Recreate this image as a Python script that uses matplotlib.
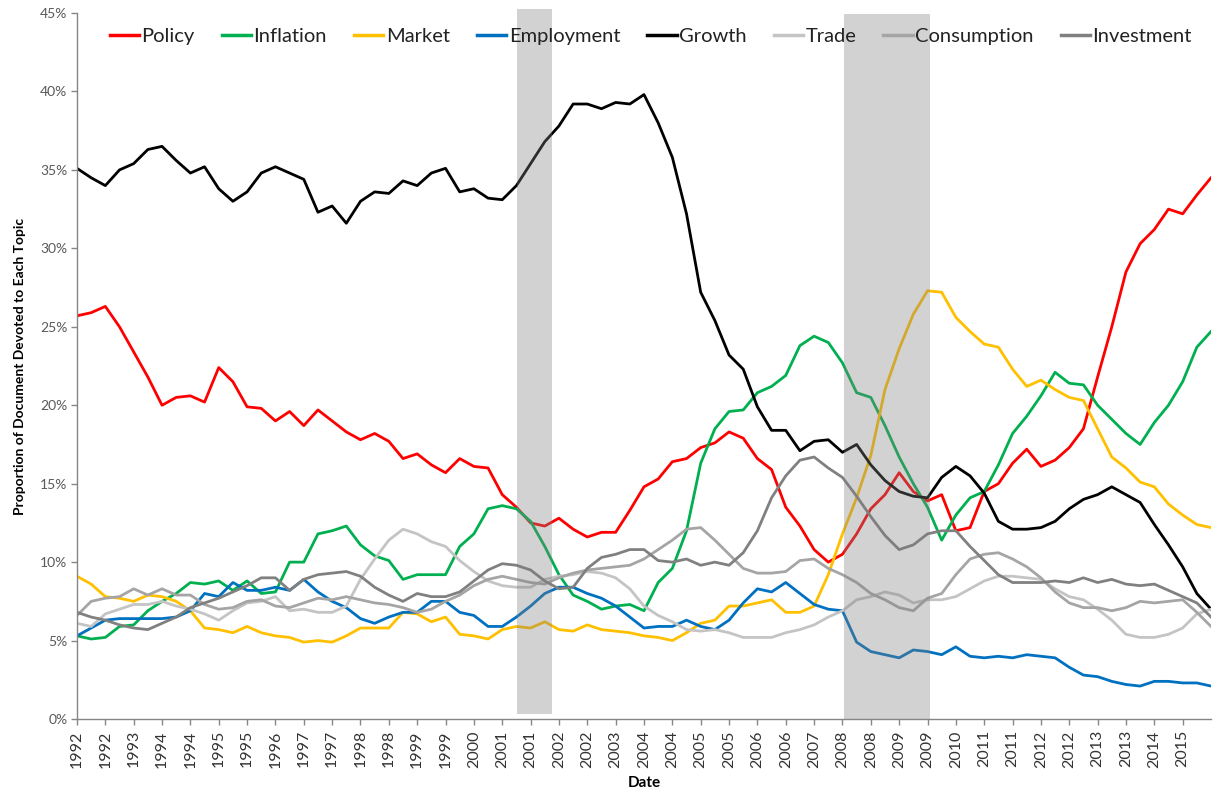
import numpy as np
import matplotlib
import matplotlib.pyplot as plt
from matplotlib.ticker import FuncFormatter

matplotlib.use('Agg')
plt.rcParams['font.family'] = ['Lato', 'DejaVu Sans']

# x runs in tick-step units (one tick label every 5 documents), sampled every half step
n_steps = 40
x = np.linspace(0, n_steps, 81)

tick_labels = ['1992', '1992', '1993', '1994', '1994', '1995', '1995', '1996', '1997', '1997',
               '1998', '1998', '1999', '1999', '2000', '2001', '2001', '2002', '2002', '2003',
               '2004', '2004', '2005', '2005', '2006', '2006', '2007', '2008', '2008', '2009',
               '2009', '2010', '2011', '2011', '2012', '2012', '2013', '2013', '2014', '2015']

# recessions, in the same x units
recession_start = [15.52, 27.05]
recession_end = [16.76, 30.09]

policy = [25.7, 25.9, 26.3, 25.0, 23.4, 21.8, 20.0, 20.5, 20.6, 20.2,
          22.4, 21.5, 19.9, 19.8, 19.0, 19.6, 18.7, 19.7, 19.0, 18.3,
          17.8, 18.2, 17.7, 16.6, 16.9, 16.2, 15.7, 16.6, 16.1, 16.0,
          14.3, 13.5, 12.5, 12.3, 12.8, 12.1, 11.6, 11.9, 11.9, 13.3,
          14.8, 15.3, 16.4, 16.6, 17.3, 17.6, 18.3, 17.9, 16.6, 15.9,
          13.5, 12.3, 10.8, 10.0, 10.5, 11.8, 13.4, 14.3, 15.7, 14.5,
          13.9, 14.3, 12.0, 12.2, 14.5, 15.0, 16.3, 17.2, 16.1, 16.5,
          17.3, 18.5, 21.8, 25.0, 28.5, 30.3, 31.2, 32.5, 32.2, 33.4,
          34.5]
inflation = [5.3, 5.1, 5.2, 5.9, 6.0, 6.9, 7.5, 8.0, 8.7, 8.6,
             8.8, 8.2, 8.8, 8.0, 8.1, 10.0, 10.0, 11.8, 12.0, 12.3,
             11.1, 10.4, 10.1, 8.9, 9.2, 9.2, 9.2, 11.0, 11.8, 13.4,
             13.6, 13.4, 12.6, 11.0, 9.2, 7.9, 7.5, 7.0, 7.2, 7.3,
             6.9, 8.7, 9.6, 12.0, 16.3, 18.5, 19.6, 19.7, 20.8, 21.2,
             21.9, 23.8, 24.4, 24.0, 22.7, 20.8, 20.5, 18.7, 16.7, 15.0,
             13.5, 11.4, 13.0, 14.1, 14.5, 16.2, 18.2, 19.3, 20.6, 22.1,
             21.4, 21.3, 20.0, 19.1, 18.2, 17.5, 18.9, 20.0, 21.5, 23.7,
             24.7]
market = [9.1, 8.6, 7.8, 7.7, 7.5, 7.9, 7.8, 7.5, 6.9, 5.8,
          5.7, 5.5, 5.9, 5.5, 5.3, 5.2, 4.9, 5.0, 4.9, 5.3,
          5.8, 5.8, 5.8, 6.8, 6.7, 6.2, 6.5, 5.4, 5.3, 5.1,
          5.7, 5.9, 5.8, 6.2, 5.7, 5.6, 6.0, 5.7, 5.6, 5.5,
          5.3, 5.2, 5.0, 5.5, 6.1, 6.3, 7.2, 7.2, 7.4, 7.6,
          6.8, 6.8, 7.2, 9.2, 11.8, 14.1, 16.8, 21.0, 23.6, 25.8,
          27.3, 27.2, 25.6, 24.7, 23.9, 23.7, 22.3, 21.2, 21.6, 21.0,
          20.5, 20.3, 18.5, 16.7, 16.0, 15.1, 14.8, 13.7, 13.0, 12.4,
          12.2]
employment = [5.3, 5.8, 6.3, 6.4, 6.4, 6.4, 6.4, 6.5, 6.9, 8.0,
              7.8, 8.7, 8.2, 8.2, 8.4, 8.2, 8.9, 8.1, 7.5, 7.1,
              6.4, 6.1, 6.5, 6.8, 6.8, 7.5, 7.5, 6.8, 6.6, 5.9,
              5.9, 6.5, 7.2, 8.0, 8.4, 8.4, 8.0, 7.7, 7.2, 6.5,
              5.8, 5.9, 5.9, 6.3, 5.9, 5.7, 6.3, 7.4, 8.3, 8.1,
              8.7, 8.0, 7.3, 7.0, 6.9, 4.9, 4.3, 4.1, 3.9, 4.4,
              4.3, 4.1, 4.6, 4.0, 3.9, 4.0, 3.9, 4.1, 4.0, 3.9,
              3.3, 2.8, 2.7, 2.4, 2.2, 2.1, 2.4, 2.4, 2.3, 2.3,
              2.1]
growth = [35.1, 34.5, 34.0, 35.0, 35.4, 36.3, 36.5, 35.6, 34.8, 35.2,
          33.8, 33.0, 33.6, 34.8, 35.2, 34.8, 34.4, 32.3, 32.7, 31.6,
          33.0, 33.6, 33.5, 34.3, 34.0, 34.8, 35.1, 33.6, 33.8, 33.2,
          33.1, 34.0, 35.4, 36.8, 37.8, 39.2, 39.2, 38.9, 39.3, 39.2,
          39.8, 38.0, 35.8, 32.2, 27.2, 25.4, 23.2, 22.3, 19.9, 18.4,
          18.4, 17.1, 17.7, 17.8, 17.0, 17.5, 16.2, 15.2, 14.5, 14.2,
          14.1, 15.4, 16.1, 15.5, 14.4, 12.6, 12.1, 12.1, 12.2, 12.6,
          13.4, 14.0, 14.3, 14.8, 14.3, 13.8, 12.4, 11.1, 9.7, 8.0,
          7.0]
trade = [6.1, 5.9, 6.7, 7.0, 7.3, 7.3, 7.5, 7.2, 7.0, 6.7,
         6.3, 6.9, 7.4, 7.5, 7.8, 6.9, 7.0, 6.8, 6.8, 7.2,
         8.9, 10.2, 11.4, 12.1, 11.8, 11.3, 11.0, 10.1, 9.4, 8.8,
         8.5, 8.4, 8.4, 8.9, 9.1, 9.2, 9.4, 9.3, 9.0, 8.3,
         7.2, 6.6, 6.2, 5.7, 5.6, 5.7, 5.5, 5.2, 5.2, 5.2,
         5.5, 5.7, 6.0, 6.5, 6.9, 7.6, 7.8, 8.1, 7.9, 7.4,
         7.6, 7.6, 7.8, 8.3, 8.8, 9.1, 9.1, 9.0, 8.9, 8.3,
         7.8, 7.6, 7.0, 6.3, 5.4, 5.2, 5.2, 5.4, 5.8, 6.7,
         7.0]
consumption = [6.6, 7.5, 7.7, 7.8, 8.3, 7.9, 8.3, 7.9, 7.9, 7.3,
               7.0, 7.1, 7.5, 7.6, 7.2, 7.1, 7.4, 7.7, 7.6, 7.8,
               7.6, 7.4, 7.3, 7.1, 6.8, 7.0, 7.5, 7.9, 8.5, 8.9,
               9.1, 8.9, 8.7, 8.6, 9.0, 9.3, 9.5, 9.6, 9.7, 9.8,
               10.2, 10.8, 11.4, 12.1, 12.2, 11.4, 10.5, 9.6, 9.3, 9.3,
               9.4, 10.1, 10.2, 9.6, 9.2, 8.7, 8.0, 7.6, 7.1, 6.9,
               7.7, 8.0, 9.2, 10.2, 10.5, 10.6, 10.2, 9.7, 9.0, 8.1,
               7.4, 7.1, 7.1, 6.9, 7.1, 7.5, 7.4, 7.5, 7.6, 6.8,
               5.9]
investment = [6.8, 6.5, 6.3, 6.0, 5.8, 5.7, 6.1, 6.5, 7.1, 7.4,
              7.7, 8.1, 8.5, 9.0, 9.0, 8.2, 8.9, 9.2, 9.3, 9.4,
              9.1, 8.4, 7.9, 7.5, 8.0, 7.8, 7.8, 8.1, 8.8, 9.5,
              9.9, 9.8, 9.5, 8.8, 8.3, 8.4, 9.6, 10.3, 10.5, 10.8,
              10.8, 10.1, 10.0, 10.2, 9.8, 10.0, 9.8, 10.6, 12.0, 14.1,
              15.5, 16.5, 16.7, 16.0, 15.4, 14.2, 12.9, 11.7, 10.8, 11.1,
              11.8, 12.0, 12.0, 11.0, 10.1, 9.2, 8.7, 8.7, 8.7, 8.8,
              8.7, 9.0, 8.7, 8.9, 8.6, 8.5, 8.6, 8.2, 7.8, 7.4,
              6.5]

series = [
    ('Policy', policy, '#ff0000'),
    ('Inflation', inflation, '#00b050'),
    ('Market', market, '#ffc000'),
    ('Employment', employment, '#0070c0'),
    ('Growth', growth, '#000000'),
    ('Trade', trade, '#c4c4c4'),
    ('Consumption', consumption, '#a5a5a5'),
    ('Investment', investment, '#808080'),
]

fig = plt.figure(figsize=(12.16, 7.89), dpi=100)
ax = fig.add_axes([0.0633, 0.0887, 0.9326, 0.8948])

for name, vals, col in series:
    ax.plot(x, vals, color=col, lw=2.0, label=name, solid_joinstyle='round')

# shaded recession bands sit over the lines, like the original
ax.axvspan(recession_start[0], recession_end[0], ymin=0.007, ymax=1.005,
           color='#7f7f7f', alpha=0.35, lw=0, zorder=5, clip_on=False)
ax.axvspan(recession_start[1], recession_end[1], ymin=0.0, ymax=0.999,
           color='#7f7f7f', alpha=0.35, lw=0, zorder=5, clip_on=False)

ax.set_xlim(0, n_steps)
ax.set_ylim(0, 45)
ax.set_yticks(np.arange(0, 46, 5))
ax.yaxis.set_major_formatter(FuncFormatter(lambda v, p: '%d%%' % v))
ax.set_xticks(np.arange(len(tick_labels)))
ax.set_xticklabels(tick_labels, rotation=90)

for s in ['top', 'right']:
    ax.spines[s].set_visible(False)
for s in ['left', 'bottom']:
    ax.spines[s].set_color('#868686')
    ax.spines[s].set_linewidth(1.0)
ax.tick_params(axis='both', direction='out', length=4, color='#868686', width=1.0)
ax.tick_params(axis='x', labelsize=11.5, labelcolor='#333333', pad=4)
ax.tick_params(axis='y', labelsize=10, labelcolor='#595959', pad=3)

ax.set_xlabel('Date', fontsize=11, fontweight='bold', labelpad=6)
ax.set_ylabel('Proportion of Document Devoted to Each Topic', fontsize=10,
              fontweight='bold', labelpad=10)

leg = ax.legend(loc='center', bbox_to_anchor=(0.506, 0.967), ncol=8, frameon=False,
                fontsize=14.5, handlelength=1.45, handletextpad=0.12, columnspacing=1.35,
                borderaxespad=0)
for line in leg.get_lines():
    line.set_linewidth(2.5)
for t in leg.get_texts():
    t.set_color('#222222')

fig.savefig('out.png', dpi=100, facecolor='white')
